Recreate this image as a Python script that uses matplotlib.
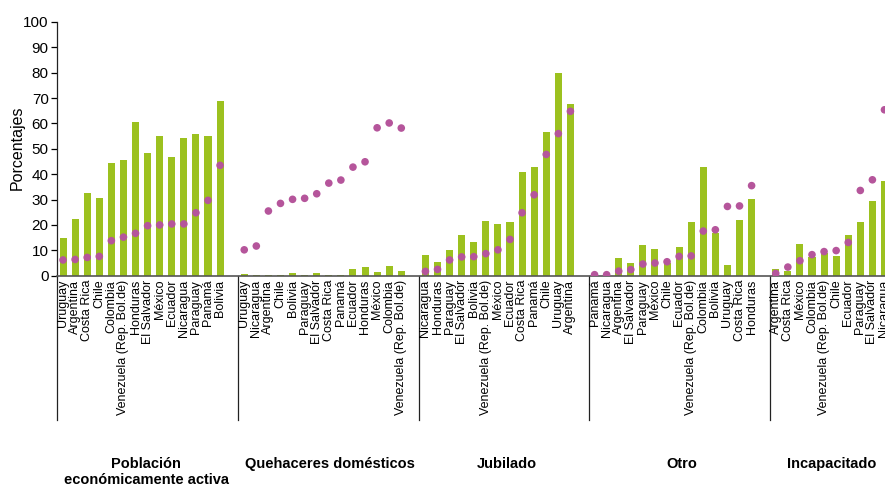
import matplotlib
matplotlib.use("Agg")
import matplotlib.pyplot as plt
from matplotlib import transforms
import numpy as np

plt.rcParams['font.family'] = ['Liberation Sans', 'DejaVu Sans']

# ---- data ----
group_names = ["Población\neconómicamente activa", "Quehaceres domésticos",
               "Jubilado", "Otro", "Incapacitado"]

g1_countries = ["Uruguay", "Argentina", "Costa Rica", "Chile", "Colombia",
                "Venezuela (Rep. Bol.de)", "Honduras", "El Salvador", "México",
                "Ecuador", "Nicaragua", "Paraguay", "Panamá", "Bolivia"]
g1_bars = [14.8, 22.3, 32.6, 30.6, 44.4, 45.6, 60.6, 48.4, 55.1, 46.8, 54.3, 55.8, 55.1, 68.9]
g1_dots = [6.2, 6.4, 7.2, 7.6, 13.8, 15.2, 16.7, 19.7, 20.0, 20.4, 20.4, 24.8, 29.7, 43.5]

g2_countries = ["Uruguay", "Nicaragua", "Argentina", "Chile", "Bolivia", "Paraguay",
                "El Salvador", "Costa Rica", "Panamá", "Ecuador", "Honduras", "México",
                "Colombia", "Venezuela (Rep. Bol.de)"]
g2_bars = [0.8, 0.1, 0.3, 0.1, 1.2, 0.4, 1.1, 0.3, 0.4, 2.6, 3.4, 1.4, 3.8, 1.8]
g2_dots = [10.2, 11.7, 25.5, 28.5, 30.1, 30.5, 32.3, 36.5, 37.7, 42.8, 44.9, 58.3, 60.2, 58.2]

g3_countries = ["Nicaragua", "Honduras", "Paraguay", "El Salvador", "Bolivia",
                "Venezuela (Rep. Bol.de)", "México", "Ecuador", "Costa Rica", "Panamá",
                "Chile", "Uruguay", "Argentina"]
g3_bars = [8.1, 5.4, 10.1, 16.0, 13.3, 21.6, 20.4, 21.2, 40.9, 42.8, 56.6, 79.9, 67.7]
g3_dots = [1.7, 2.5, 6.2, 7.4, 7.5, 8.7, 10.2, 14.3, 24.8, 31.9, 47.8, 56.0, 64.8]

g4_countries = ["Panamá", "Nicaragua", "Argentina", "El Salvador", "Paraguay", "México",
                "Chile", "Ecuador", "Venezuela (Rep. Bol.de)", "Colombia", "Bolivia",
                "Uruguay", "Costa Rica", "Honduras"]
g4_bars = [0.3, 0.2, 7.0, 5.0, 12.1, 10.5, 4.9, 11.3, 21.2, 42.8, 17.0, 4.2, 21.9, 30.2]
g4_dots = [0.4, 0.4, 1.8, 2.4, 4.6, 5.0, 5.5, 7.6, 7.8, 17.6, 18.1, 27.3, 27.5, 35.5]

g5_countries = ["Argentina", "Costa Rica", "México", "Colombia", "Venezuela (Rep. Bol.de)",
                "Chile", "Ecuador", "Paraguay", "El Salvador", "Nicaragua"]
g5_bars = [2.6, 2.0, 12.5, 7.5, 8.8, 7.8, 16.0, 21.2, 29.4, 37.3]
g5_dots = [0.9, 3.4, 5.9, 8.3, 9.5, 9.9, 13.1, 33.6, 37.8, 65.4]

groups = [
    (g1_countries, g1_bars, g1_dots),
    (g2_countries, g2_bars, g2_dots),
    (g3_countries, g3_bars, g3_dots),
    (g4_countries, g4_bars, g4_dots),
    (g5_countries, g5_bars, g5_dots),
]

bar_color = "#9CC11F"
dot_color = "#B5559B"

W, H = 885, 486
fig = plt.figure(figsize=(W / 100, H / 100), dpi=100)

slot = 12.08  # pixels per slot
xmax = 74
left_px, bottom_px, top_px = 57, 486 - 275.7, 486 - 22
ax = fig.add_axes([left_px / W, bottom_px / H, xmax * slot / W, (top_px - bottom_px) / H])

positions, labels, seps, centers = [], [], [], []
start = 0.0
for names, bars, dots in groups:
    n = len(names)
    x = start + 0.5 + np.arange(n)
    ax.bar(x, bars, width=0.58, color=bar_color, zorder=2)
    ax.scatter(x, dots, s=30, color=dot_color, edgecolors='none', zorder=3)
    positions.extend(x)
    labels.extend(names)
    seps.append(start)
    centers.append(start + (n + 1) / 2.0)
    start = start + n + 1

# separators
sep_list = [0, 15, 30, 44, 59]
for s in sep_list:
    ax.plot([s, s], [0, -57], color="#222222", lw=0.9, clip_on=False, zorder=1)

ax.set_xlim(0, xmax)
ax.set_ylim(0, 100)
ax.set_yticks(np.arange(0, 101, 10))
ax.tick_params(axis='y', direction='out', length=4, width=0.9, labelsize=11, pad=2)
ax.set_xticks(positions)
ax.set_xticklabels(labels, rotation=90, fontsize=9)
ax.tick_params(axis='x', length=0, pad=3)

for sp in ['top', 'right']:
    ax.spines[sp].set_visible(False)
ax.spines['left'].set_color("#222222")
ax.spines['left'].set_linewidth(0.9)
ax.spines['bottom'].set_color("#555555")
ax.spines['bottom'].set_linewidth(1.2)

fig.text(17 / W, (H - 148) / H, "Porcentajes", rotation=90, ha='center', va='center', fontsize=11.5)

# group titles
title_x = [7.4, 22.6, 37.2, 51.7, 64.1]
trans = transforms.blended_transform_factory(ax.transData, fig.transFigure)
for gx, name in zip(title_x, group_names):
    ax.text(gx, (H - 457) / H, name, transform=trans, ha='center', va='top',
            fontsize=10.5, fontweight='bold', linespacing=1.15, clip_on=False)

fig.savefig("out.png", dpi=100)
